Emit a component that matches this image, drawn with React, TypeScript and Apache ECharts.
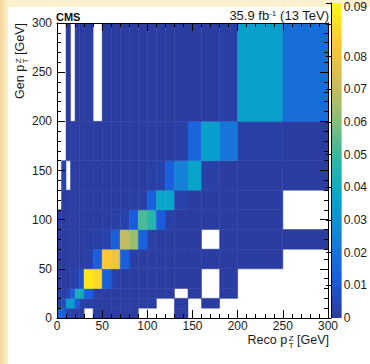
import React, { useEffect, useRef } from "react";
import * as echarts from "echarts";

// Bin edges (GeV)
const genEdges = [0, 10, 20, 30, 50, 70, 90, 110, 130, 160, 200, 300];
const recoEdges = [0, 5, 10, 15, 20, 25, 30, 40, 50, 60, 70, 80, 90, 100, 110, 120, 130, 145, 160, 180, 200, 250, 300];

// Response matrix, one row per gen bin, one value per reco bin (null = empty bin)
const gen0to10 = [0.015, 0.014, 0.003, 0.002, 0.001, 0.001, null, 0.001, 0.001, 0.001, 0.001, 0.001, null, null, null, null, 0.001, null, null, null, null, null];
const gen10to20 = [0.002, 0.006, 0.033, 0.032, 0.011, 0.003, 0.002, 0.001, 0.001, 0.001, 0.001, 0.001, 0.001, 0.001, null, null, 0.001, null, 0.001, null, null, null];
const gen20to30 = [0.001, 0.002, 0.004, 0.012, 0.042, 0.040, 0.013, 0.002, 0.001, 0.001, 0.001, 0.001, 0.001, 0.001, 0.001, 0.001, null, 0.001, null, 0.001, null, null];
const gen30to50 = [0.001, 0.001, 0.001, 0.002, 0.003, 0.009, 0.092, 0.088, 0.014, 0.003, 0.001, 0.001, 0.001, 0.001, 0.001, 0.001, 0.001, 0.001, null, 0.001, null, null];
const gen50to70 = [0.001, 0.001, 0.001, 0.001, 0.001, 0.001, 0.002, 0.013, 0.084, 0.080, 0.014, 0.002, 0.001, 0.001, 0.001, 0.001, 0.001, 0.001, 0.001, 0.001, 0.001, null];
const gen70to90 = [0.001, 0.001, 0.001, 0.001, 0.001, 0.001, 0.001, 0.002, 0.003, 0.013, 0.070, 0.063, 0.014, 0.002, 0.001, 0.001, 0.001, 0.001, null, 0.001, 0.001, 0.001];
const gen90to110 = [0.001, 0.001, 0.001, 0.001, 0.001, 0.001, 0.001, 0.001, 0.001, 0.002, 0.003, 0.012, 0.052, 0.046, 0.012, 0.002, 0.001, 0.001, 0.001, 0.001, 0.001, null];
const gen110to130 = [null, 0.001, 0.001, 0.001, 0.001, 0.001, 0.001, 0.001, 0.001, 0.001, 0.001, 0.002, 0.002, 0.013, 0.037, 0.036, 0.003, 0.001, 0.001, 0.001, 0.001, null];
const gen130to160 = [null, 0.004, null, 0.001, 0.001, 0.001, 0.001, 0.001, 0.001, 0.001, 0.001, 0.001, 0.001, 0.002, 0.003, 0.013, 0.024, 0.036, 0.002, 0.001, 0.001, 0.001];
const gen160to200 = [null, null, 0.001, 0.001, 0.001, 0.001, 0.001, 0.001, 0.001, 0.001, 0.001, 0.001, 0.001, 0.001, 0.001, 0.001, 0.002, 0.015, 0.034, 0.021, 0.002, 0.001];
const gen200to300 = [null, null, 0.001, null, 0.001, 0.001, 0.001, null, 0.001, 0.001, 0.001, 0.001, 0.001, 0.001, 0.001, 0.001, 0.001, 0.001, 0.001, 0.002, 0.035, 0.018];

const responseRows = [gen0to10, gen10to20, gen20to30, gen30to50, gen50to70, gen70to90, gen90to110, gen110to130, gen130to160, gen160to200, gen200to300];

// Axes
const ptMin = 0;
const ptMax = 300;
const ptStep = 50;
const zMin = 0;
const zMax = 0.0964;
const zStep = 0.01;

const birdPalette = ["#2c3a9c", "#1a5cdc", "#1481d6", "#08a4ca", "#2eb7a4", "#87bf77", "#d1bb59", "#fec832", "#f9fb0e"];

const FONT = '"Liberation Sans", Arial, Helvetica, sans-serif';

function measure(text: string, font: string): number {
  const ctx = document.createElement("canvas").getContext("2d");
  if (!ctx) return text.length * 6;
  ctx.font = font;
  return ctx.measureText(text).width;
}

function titleParts(prefix: string, right: number, baseline: number) {
  const big = 12.5;
  const small = 8;
  const fBig = `${big}px ${FONT}`;
  const fSmall = `${small}px ${FONT}`;
  const wGeV = measure("[GeV]", fBig);
  const wSmall = Math.max(measure("T", fSmall), measure("Z", fSmall));
  const xGeV = right - wGeV;
  const xSmall = xGeV - 3.5 - wSmall;
  const c = 0.35;
  const mk = (text: string, x: number, base: number, size: number, align: string) => ({
    type: "text",
    x,
    y: base - c * size,
    style: { text, font: `${size}px ${FONT}`, textAlign: align, textVerticalAlign: "middle", fill: "#1a1a1a" },
  });
  // stacked superscript Z / subscript T in one text block
  const stacked = {
    type: "text",
    x: xSmall,
    y: baseline - 2.5,
    style: {
      text: "{z|Z}\n{t|T}",
      textAlign: "left",
      textVerticalAlign: "middle",
      rich: {
        z: { fontSize: small, fontFamily: FONT, lineHeight: 7, fill: "#1a1a1a", color: "#1a1a1a" },
        t: { fontSize: small, fontFamily: FONT, lineHeight: 7, fill: "#1a1a1a", color: "#1a1a1a" },
      },
    },
  };
  return [mk(prefix, xSmall - 1.5, baseline, big, "right"), stacked, mk("[GeV]", right, baseline, big, "right")];
}

export default function App() {
  const ref = useRef<HTMLDivElement>(null);
  useEffect(() => {
    document.body.style.margin = "0";
    const chart = echarts.init(ref.current as HTMLDivElement, null, { renderer: "svg" });

    const cells: number[][] = [];
    responseRows.forEach((row, gi) => {
      row.forEach((v, ri) => {
        if (v !== null && v !== undefined) {
          cells.push([recoEdges[ri], recoEdges[ri + 1], genEdges[gi], genEdges[gi + 1], v]);
        }
      });
    });

    const labelStyle = { color: "#1a1a1a", fontSize: 12, fontFamily: FONT };
    const ptAxis = (extra: any) => ({
      type: "value",
      min: ptMin,
      max: ptMax,
      interval: ptStep,
      z: 10,
      axisLine: { show: true, onZero: false, lineStyle: { color: "#000", width: 1 } },
      axisTick: { show: true, inside: true, length: 8, lineStyle: { color: "#000", width: 1 } },
      minorTick: { show: true, splitNumber: 5, length: 4, lineStyle: { color: "#000", width: 1 } },
      splitLine: { show: false },
      minorSplitLine: { show: false },
      ...extra,
    });

    const stops = birdPalette.map((c, i) => ({ offset: i / (birdPalette.length - 1), color: c }));

    const option: any = {
      animation: false,
      backgroundColor: "#fcf2cd",
      grid: [
        { left: 57, top: 23, width: 271, height: 295 },
        { left: 331, top: 3, width: 17, height: 315 },
      ],
      xAxis: [
        ptAxis({ gridIndex: 0, position: "bottom", axisLabel: { ...labelStyle, margin: 2 } }),
        ptAxis({ gridIndex: 0, position: "top", axisLabel: { show: false } }),
        { gridIndex: 1, type: "value", min: 0, max: 1, show: false },
      ],
      yAxis: [
        ptAxis({ gridIndex: 0, position: "left", axisLabel: { ...labelStyle, margin: 5 } }),
        ptAxis({ gridIndex: 0, position: "right", axisLabel: { show: false } }),
        {
          gridIndex: 1,
          type: "value",
          position: "right",
          min: zMin,
          max: zMax,
          interval: zStep,
          z: 10,
          axisLine: { show: true, lineStyle: { color: "#000", width: 1 } },
          axisTick: { show: true, inside: true, length: 5, lineStyle: { color: "#000" } },
          splitLine: { show: false },
          axisLabel: {
            ...labelStyle,
            margin: 2,
            formatter: (v: number) => {
              if (v > 0.0905) return "";
              if (Math.abs(v - 0.09) < 1e-6) return "{t|0.09}";
              return v === 0 ? "0" : v.toFixed(2);
            },
            rich: { t: { ...labelStyle, padding: [0, 0, 34, 0] } },
          },
        },
      ],
      visualMap: {
        show: false,
        type: "continuous",
        seriesIndex: 0,
        dimension: 4,
        min: zMin,
        max: zMax,
        inRange: { color: birdPalette },
      },
      series: [
        {
          type: "custom",
          xAxisIndex: 0,
          yAxisIndex: 0,
          clip: true,
          encode: { x: [0, 1], y: [2, 3] },
          data: cells,
          renderItem: (params: any, api: any) => {
            const p0 = api.coord([api.value(0), api.value(3)]);
            const p1 = api.coord([api.value(1), api.value(2)]);
            const color = api.visual("color");
            return {
              type: "rect",
              shape: { x: p0[0], y: p0[1], width: p1[0] - p0[0], height: p1[1] - p0[1] },
              style: { fill: color, stroke: color, lineWidth: 0.5 },
            };
          },
        },
        {
          type: "custom",
          xAxisIndex: 2,
          yAxisIndex: 2,
          data: [[0, 1, zMin, zMax]],
          encode: { x: [0, 1], y: [2, 3] },
          renderItem: (params: any, api: any) => {
            const p0 = api.coord([api.value(0), api.value(3)]);
            const p1 = api.coord([api.value(1), api.value(2)]);
            return {
              type: "rect",
              shape: { x: p0[0], y: p0[1], width: p1[0] - p0[0], height: p1[1] - p0[1] },
              style: { fill: new echarts.graphic.LinearGradient(0, 1, 0, 0, stops) },
            };
          },
        },
      ],
      graphic: [
        {
          type: "rect",
          z: -10,
          shape: { x: 0, y: 0, width: 9, height: 364 },
          style: { fill: new echarts.graphic.LinearGradient(0, 0, 1, 0, [{ offset: 0, color: "#f6d59a" }, { offset: 1, color: "#fcf2cd" }]) },
        },
        { type: "rect", z: -9, shape: { x: 8, y: 7, width: 362, height: 357 }, style: { fill: "#ffffff" } },
        {
          type: "text",
          z: 20,
          x: 56,
          y: 21 - 0.35 * 11,
          style: { text: "CMS", font: `bold 11px ${FONT}`, textAlign: "left", textVerticalAlign: "middle", fill: "#111" },
        },
        {
          type: "text",
          z: 20,
          x: 329,
          y: 20.5 - 0.35 * 13,
          style: {
            text: "{a|35.9 fb}{s|-1}{a| (13 TeV)}",
            textAlign: "right",
            textVerticalAlign: "middle",
            rich: {
              a: { fontSize: 13, fontFamily: FONT, fill: "#1a1a1a", color: "#1a1a1a" },
              s: { fontSize: 8, fontFamily: FONT, fill: "#1a1a1a", color: "#1a1a1a", verticalAlign: "top", padding: [0, 0, 4, 0] },
            },
          },
        },
        { type: "group", z: 20, children: titleParts("Reco p", 329, 344) },
        { type: "group", z: 20, x: 24, y: 23, rotation: Math.PI / 2, children: titleParts("Gen p", 0, 0) },
      ],
    };

    chart.setOption(option);
    return () => chart.dispose();
  }, []);
  return <div ref={ref} style={{ position: "absolute", left: 0, top: 0, width: 370, height: 364 }} />;
}
